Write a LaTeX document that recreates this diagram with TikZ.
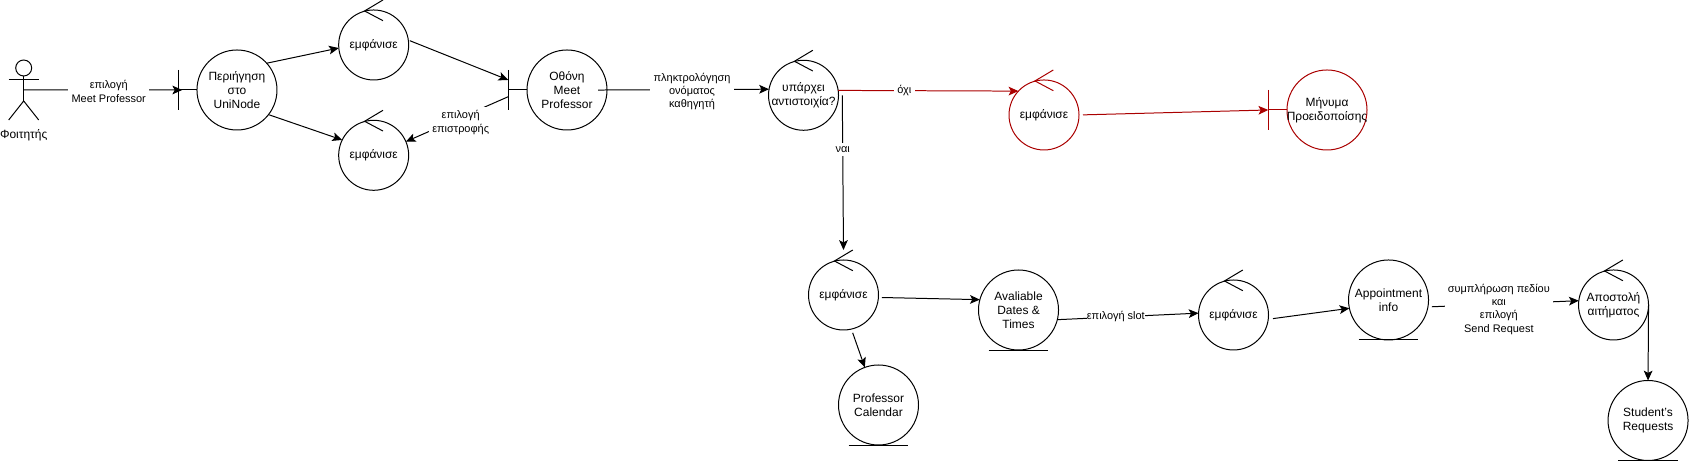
\documentclass[tikz,border=0pt]{standalone}
\usepackage{fontspec}
\setmainfont{Liberation Sans}
\usetikzlibrary{positioning,arrows.meta}
\definecolor{rbred}{RGB}{170,0,0}
\tikzset{
  rbfont/.style={font=\fontsize{9}{10.5}\selectfont, align=center},
  rbcirc/.style={rbfont, circle, draw=black, line width=0.75pt, fill=white, inner sep=-14pt, outer sep=0pt},
  rbbig/.style={rbcirc, minimum size=2.117cm},
  rbsmall/.style={rbcirc, minimum size=1.852cm},
  rbwarn/.style={draw=rbred},
  rbline/.style={line width=0.75pt, draw=black},
  rbarr/.style={rbline, -{Stealth[length=2.6mm,width=2.3mm,inset=0.6mm]}},
  rbredarr/.style={rbarr, draw=rbred, text=black},
  rblbl/.style={font=\fontsize{8.25}{9.9}\selectfont, align=center, fill=white, inner sep=2.5pt},
}
\begin{document}
\begin{tikzpicture}
    \useasboundingbox (0,0) rectangle (44.688,-12.197);

    % Boundary nodes and first row
    \node[rbbig] (uni) at (6.27,-2.381) {Περιήγηση\\στο\\UniNode};
    \node[rbsmall, right=1.632cm of uni, yshift=1.191cm] (showup) {εμφάνισε};
    \node[rbsmall, right=1.632cm of uni, yshift=-1.728cm] (showback) {εμφάνισε};
    \node[rbbig, right=6.615cm of uni] (meet) {Οθόνη\\Meet\\Professor};
    \node[rbsmall, right=4.273cm of meet, yshift=-0.14cm] (match) {υπάρχει\\αντιστοιχία?};

    % Warning branch
    \node[rbsmall, rbwarn, right=4.511cm of match, yshift=-0.521cm] (warnshow) {εμφάνισε};
    \node[rbbig, rbwarn, right=5.503cm of warnshow, yshift=0.132cm] (warn) {Μήνυμα\\Προειδοποίσης};

    % Booking row
    \node[rbsmall, below=3.432cm of match, xshift=1.058cm] (slotshow) {εμφάνισε};
    \node[rbbig, below=0.926cm of slotshow, xshift=0.926cm] (calendar) {Professor\\ Calendar};
    \node[rbbig, right=2.646cm of slotshow, yshift=-0.397cm] (dates) {Avaliable\\Dates \&\\Times};
    \node[rbsmall, right=3.704cm of dates, yshift=-0.132cm] (slotnext) {εμφάνισε};
    \node[rbbig, right=2.117cm of slotnext, yshift=0.397cm] (appoint) {Appointment\\info};
    \node[rbsmall, right=3.969cm of appoint, yshift=-0.132cm] (send) {Αποστολή\\αιτήματος};
    \node[rbbig, below=1.072cm of send, xshift=0.913cm] (requests) {Student's\\Requests};

    % Actor
    \node[circle, draw=black, line width=0.75pt, minimum size=0.423cm, inner sep=0pt, outer sep=0pt] (head) at (0.627,-1.799) {};
    \coordinate[below=0.661cm of head] (hip);
    \coordinate[above=0.291cm of hip] (hand);
    \coordinate[below=0.106cm of head] (arms);
    \node[rbfont, inner sep=0pt, below=0.74cm of hip] (student) {Φοιτητής};
    \draw[rbline] (head.south) -- (hip);
    \draw[rbline] ([xshift=-0.397cm]arms) -- ([xshift=0.397cm]arms);
    \draw[rbline] ([xshift=-0.397cm,yshift=-0.503cm]hip) -- (hip) -- ([xshift=0.397cm,yshift=-0.503cm]hip);

    % Controller chevrons
    \foreach \n/\c in {showup/black, showback/black, match/black, warnshow/rbred, slotshow/black, slotnext/black, send/black} {
      \draw[rbline, draw=\c] ([xshift=0.247cm,yshift=1.191cm]\n.center) -- ([xshift=-0.24cm,yshift=0.9cm]\n.center) -- ([xshift=0.247cm,yshift=0.642cm]\n.center);
    }
    % Boundary bars
    \foreach \n/\c in {uni/black, meet/black, warn/rbred} {
      \coordinate (\n bar) at ([xshift=-0.495cm]\n.west);
      \draw[rbline, draw=\c] (\n bar) -- (\n.west);
      \draw[rbline, draw=\c] ([yshift=0.529cm]\n bar) -- ([yshift=-0.529cm]\n bar);
    }
    % Entity underlines
    \foreach \n in {calendar, dates, appoint, requests} {
      \draw[rbline] ([xshift=-0.79cm]\n.south) -- ([xshift=0.79cm]\n.south);
    }

    % Connections
    \draw[rbarr, shorten >=-3pt] (hand) -- node[rblbl, pos=0.55, yshift=-0.04cm] {επιλογή\\Meet Professor} (unibar);
    \draw[rbarr] (uni.42) -- (showup.185);
    \draw[rbarr] (uni.-38) -- (showback.154);
    \draw[rbarr, shorten <=1.2pt] (showup.8) -- ([yshift=0.265cm]meetbar);
    \draw[rbarr] ([yshift=-0.177cm]meetbar) -- node[rblbl, pos=0.465, yshift=-0.13cm] {επιλογή\\επιστροφής} (showback.23);
    \draw[rbarr, shorten <=-6.75pt] (meet.east) -- node[rblbl, pos=0.525, yshift=-0.05cm] {πληκτρολόγηση\\ονόματος\\καθηγητή} (match.170);
    \draw[rbredarr] (match.8) -- node[rblbl, pos=0.367] {όχι} (warnshow.137);
    \draw[rbarr] ([xshift=0.1cm]match.east) -- node[rblbl, pos=0.35] {ναι} ([yshift=0.265cm]slotshow.north);
    \draw[rbredarr, shorten <=3pt] (warnshow.east) -- (warnbar);
    \draw[rbarr, shorten <=2.6pt] (slotshow.-4) -- (dates.165);
    \draw[rbarr, shorten <=3pt] (slotshow.-77) -- (calendar.110);
    \draw[rbarr] (dates.-14) -- node[rblbl, inner sep=0pt, pos=0.414] {επιλογή slot} (slotnext.177);
    \draw[rbarr, shorten <=3.6pt] (slotnext.-7) -- (appoint.192);
    \draw[rbarr, shorten <=3pt] (appoint.-10) -- node[rblbl, pos=0.47, yshift=-0.14cm] {συμπλήρωση πεδίου\\και\\επιλογή\\Send Request} (send.173);
    \draw[rbarr] (send.east) -- (requests.north);
  \end{tikzpicture}
\end{document}
